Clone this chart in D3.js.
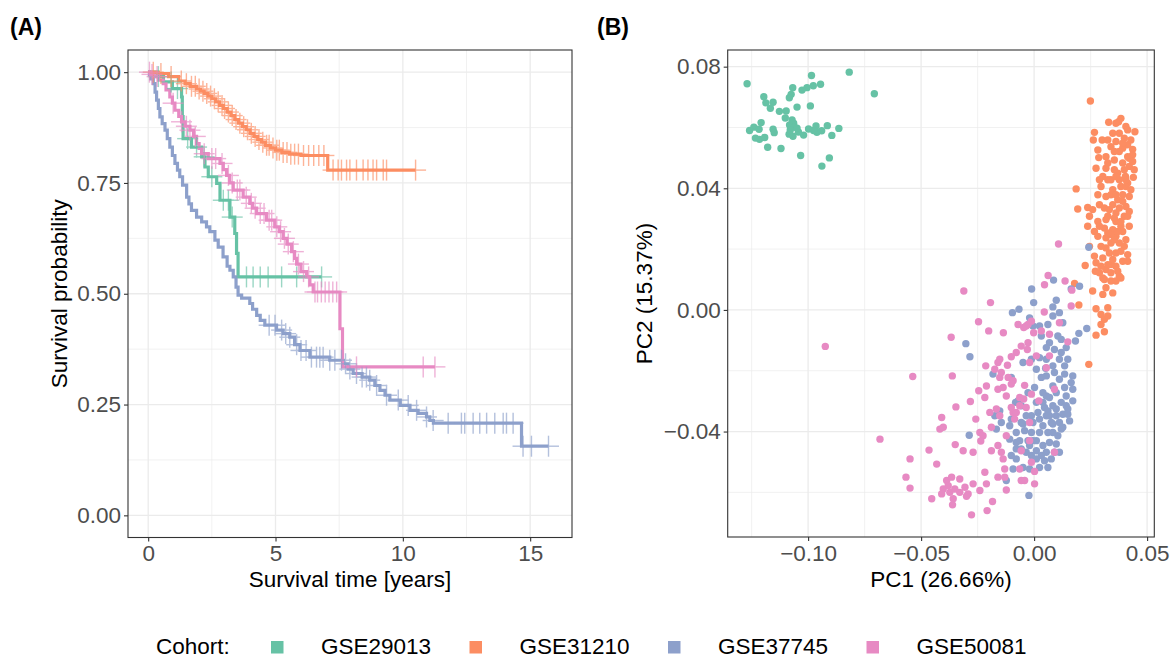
<!DOCTYPE html>
<html>
<head>
<meta charset="utf-8">
<script src="https://cdn.jsdelivr.net/npm/d3@7"></script>
<style>
  body { margin: 0; background: #fff; }
  text { font-family: "Liberation Sans", Arial, Helvetica, sans-serif; }
</style>
</head>
<body>
<svg id="chart" width="1171" height="659"></svg>
<script>
const cohorts = ["GSE29013", "GSE31210", "GSE37745", "GSE50081"];
const colors = ["#66C2A5", "#FC8D62", "#8DA0CB", "#E78AC3"];

// ---- (A) Kaplan-Meier: event times / survival after each step / censor times
const time29013 = [0.35, 0.6, 0.95, 1.31, 1.34, 1.37, 1.7, 2.1, 2.23, 2.36, 2.69, 2.82, 3.21, 3.40, 3.47, 3.53];
const surv29013 = [0.99, 0.978, 0.963, 0.944, 0.9, 0.85, 0.831, 0.809, 0.786, 0.764, 0.749, 0.711, 0.673, 0.636, 0.591, 0.538];
const cens29013 = [0.4, 0.9, 1.15, 1.55, 1.9, 2.2, 2.5, 2.95, 3.15, 3.3, 3.86, 4.12, 4.4, 4.71, 5.24, 5.83, 6.81];

const time31210 = [0.4, 0.8, 1.2, 1.45, 1.65, 1.9, 2.05, 2.2, 2.35, 2.5, 2.65, 2.8, 2.95, 3.1, 3.25, 3.4, 3.55, 3.7, 3.85, 4.0, 4.15, 4.3, 4.45, 4.6, 4.8, 5.0, 5.25, 5.55, 6.0, 7.05];
const surv31210 = [0.997, 0.99, 0.98, 0.974, 0.968, 0.962, 0.957, 0.952, 0.946, 0.94, 0.933, 0.925, 0.918, 0.91, 0.902, 0.893, 0.885, 0.877, 0.87, 0.862, 0.855, 0.848, 0.842, 0.835, 0.829, 0.824, 0.819, 0.815, 0.812, 0.779];
const cens31210 = [0.2, 0.5, 0.9, 1.3, 1.5, 1.7, 1.85, 2.0, 2.15, 2.3, 2.45, 2.6, 2.75, 2.9, 3.0, 3.15, 3.3, 3.45, 3.6, 3.75, 3.9, 4.05, 4.2, 4.35, 4.5, 4.65, 4.75, 4.9, 5.05, 5.15, 5.3, 5.45, 5.6, 5.75, 5.9, 6.1, 6.3, 6.5, 6.7, 6.9, 7.26, 7.46, 7.59, 7.79, 7.92, 8.18, 8.44, 8.63, 8.83, 8.97, 9.23, 9.36, 10.5];

const time37745 = [0.05, 0.1, 0.2, 0.27, 0.33, 0.4, 0.46, 0.55, 0.66, 0.75, 0.85, 0.95, 1.05, 1.15, 1.24, 1.35, 1.51, 1.6, 1.7, 1.9, 2.1, 2.29, 2.42, 2.62, 2.75, 2.94, 3.1, 3.21, 3.34, 3.45, 3.53, 3.67, 3.99, 4.1, 4.26, 4.4, 4.58, 5.04, 5.3, 5.56, 5.75, 5.96, 6.35, 7.13, 7.66, 7.85, 8.05, 8.4, 8.7, 8.9, 9.1, 9.3, 9.49, 9.9, 10.28, 10.6, 10.93, 11.06, 11.2, 14.66];
const surv37745 = [0.995, 0.985, 0.974, 0.955, 0.937, 0.918, 0.899, 0.884, 0.869, 0.85, 0.831, 0.812, 0.794, 0.779, 0.764, 0.745, 0.718, 0.703, 0.688, 0.673, 0.662, 0.651, 0.64, 0.621, 0.605, 0.583, 0.562, 0.553, 0.538, 0.515, 0.497, 0.49, 0.478, 0.465, 0.451, 0.44, 0.429, 0.418, 0.41, 0.402, 0.385, 0.372, 0.357, 0.35, 0.342, 0.33, 0.32, 0.312, 0.305, 0.293, 0.282, 0.271, 0.26, 0.248, 0.237, 0.23, 0.222, 0.214, 0.208, 0.156];
const cens37745 = [4.75, 4.98, 5.24, 5.4, 5.56, 5.83, 6.0, 6.2, 6.41, 6.61, 6.74, 6.87, 7.13, 7.33, 7.59, 7.75, 7.92, 8.18, 8.4, 8.57, 8.7, 8.97, 9.36, 9.82, 10.21, 10.54, 10.93, 11.19, 11.78, 12.3, 12.43, 12.76, 13.02, 13.29, 13.61, 13.94, 14.07, 14.33, 14.72, 15.05, 15.72];

const time50081 = [0.1, 0.2, 0.4, 0.59, 0.7, 0.85, 0.95, 1.05, 1.2, 1.31, 1.45, 1.64, 1.78, 1.9, 2.0, 2.1, 2.36, 2.82, 2.95, 3.08, 3.2, 3.34, 3.73, 3.99, 4.1, 4.26, 4.65, 4.97, 5.15, 5.3, 5.45, 5.63, 5.75, 5.83, 6.0, 6.22, 6.35, 6.48, 7.53, 7.63];
const surv50081 = [0.995, 0.99, 0.982, 0.974, 0.96, 0.944, 0.93, 0.914, 0.9, 0.888, 0.878, 0.869, 0.855, 0.839, 0.828, 0.816, 0.805, 0.794, 0.78, 0.767, 0.75, 0.734, 0.718, 0.704, 0.693, 0.681, 0.666, 0.651, 0.64, 0.625, 0.612, 0.595, 0.58, 0.567, 0.55, 0.538, 0.52, 0.504, 0.421, 0.335];
const cens50081 = [0.05, 0.15, 0.35, 0.98, 1.31, 1.5, 1.64, 1.85, 2.2, 2.5, 2.65, 2.9, 3.15, 3.3, 3.5, 3.6, 3.85, 4.05, 4.2, 4.4, 4.55, 4.75, 4.85, 5.05, 5.2, 5.35, 5.5, 5.7, 5.9, 6.1, 6.3, 6.55, 6.65, 6.8, 6.95, 7.1, 7.25, 7.4, 8.18, 10.8, 11.26];

const kmTimes = [time29013, time31210, time37745, time50081];
const kmSurv = [surv29013, surv31210, surv37745, surv50081];
const kmCens = [cens29013, cens31210, cens37745, cens50081];
const timeLimit = 15.85;
const timeTicks = [0, 5, 10, 15];
const survTicks = [0, 0.25, 0.5, 0.75, 1];

// ---- (B) PCA scores [PC1, PC2]
const pca29013 = [[-0.1270,0.0744],[-0.0818,0.0782],[-0.0707,0.0711],[-0.0985,0.0771],[-0.0945,0.0742],[-0.0977,0.0737],[-0.1005,0.0731],[-0.1027,0.0723],[-0.1068,0.0731],[-0.1075,0.0709],[-0.1083,0.0698],[-0.1196,0.0701],[-0.1187,0.0681],[-0.1155,0.0683],[-0.1167,0.0663],[-0.1127,0.0653],[-0.1097,0.0654],[-0.1049,0.0667],[-0.0990,0.0671],[-0.1071,0.0625],[-0.1064,0.0614],[-0.1082,0.0608],[-0.1060,0.0601],[-0.1208,0.0616],[-0.1240,0.0601],[-0.1259,0.0590],[-0.1217,0.0594],[-0.1155,0.0594],[-0.1150,0.0583],[-0.1233,0.0565],[-0.1215,0.0561],[-0.1192,0.0567],[-0.1084,0.0578],[-0.1067,0.0571],[-0.1043,0.0585],[-0.1020,0.0575],[-0.0998,0.0595],[-0.0965,0.0605],[-0.0961,0.0584],[-0.0940,0.0589],[-0.0915,0.0606],[-0.0864,0.0597],[-0.0895,0.0574],[-0.1179,0.0535],[-0.1120,0.0531],[-0.1033,0.0508],[-0.0906,0.0500],[-0.0939,0.0473],[-0.1049,0.0598],[-0.0976,0.0590],[-0.1079,0.0592],[-0.1101,0.0631]];

const pca31210 = [[0.0249,0.0687],[0.0330,0.0617],[0.0362,0.0614],[0.0384,0.0630],[0.0374,0.0619],[0.0406,0.0603],[0.0446,0.0586],[0.0414,0.0592],[0.0267,0.0584],[0.0262,0.0559],[0.0301,0.0559],[0.0326,0.0559],[0.0377,0.0581],[0.0399,0.0565],[0.0362,0.0554],[0.0414,0.0543],[0.0436,0.0528],[0.0392,0.0532],[0.0340,0.0537],[0.0377,0.0521],[0.0282,0.0526],[0.0318,0.0504],[0.0286,0.0501],[0.0414,0.0504],[0.0355,0.0493],[0.0392,0.0483],[0.0421,0.0472],[0.0439,0.0436],[0.0404,0.0439],[0.0355,0.0461],[0.0318,0.0466],[0.0274,0.0466],[0.0304,0.0439],[0.0340,0.0428],[0.0377,0.0428],[0.0414,0.0417],[0.0421,0.0373],[0.0384,0.0406],[0.0348,0.0395],[0.0296,0.0406],[0.0340,0.0379],[0.0370,0.0362],[0.0406,0.0340],[0.0399,0.0308],[0.0362,0.0319],[0.0333,0.0330],[0.0289,0.0346],[0.0282,0.0379],[0.0186,0.0398],[0.0193,0.0332],[0.0237,0.0337],[0.0245,0.0308],[0.0282,0.0291],[0.0318,0.0297],[0.0362,0.0291],[0.0414,0.0308],[0.0384,0.0275],[0.0348,0.0264],[0.0311,0.0269],[0.0267,0.0258],[0.0237,0.0275],[0.0282,0.0242],[0.0318,0.0237],[0.0362,0.0242],[0.0406,0.0231],[0.0340,0.0220],[0.0377,0.0220],[0.0296,0.0209],[0.0333,0.0187],[0.0362,0.0187],[0.0414,0.0182],[0.0414,0.0160],[0.0362,0.0144],[0.0377,0.0111],[0.0340,0.0095],[0.0311,0.0100],[0.0289,0.0122],[0.0274,0.0155],[0.0226,0.0146],[0.0271,0.0127],[0.0304,0.0105],[0.0348,0.0056],[0.0304,0.0051],[0.0259,0.0062],[0.0384,0.0105],[0.0326,0.0007],[0.0274,0.0004],[0.0296,-0.0015],[0.0311,-0.0031],[0.0326,-0.0020],[0.0296,-0.0048],[0.0311,-0.0072],[0.0274,-0.0083],[0.0245,0.0209],[0.0267,0.0177],[0.0179,0.0087],[0.0198,0.0016],[0.0242,-0.0179],[0.0348,0.0581],[0.0392,0.0548],[0.0428,0.0559],[0.0355,0.0521],[0.0326,0.0483],[0.0370,0.0450],[0.0406,0.0406],[0.0318,0.0373],[0.0392,0.0379],[0.0377,0.0335],[0.0326,0.0308],[0.0392,0.0258],[0.0340,0.0248],[0.0304,0.0171],[0.0340,0.0149],[0.0318,0.0133],[0.0436,0.0510],[0.0443,0.0461],[0.0289,0.0428],[0.0259,0.0330],[0.0421,0.0499],[0.0399,0.0461],[0.0436,0.0488],[0.0362,0.0439],[0.0326,0.0428],[0.0406,0.0428],[0.0428,0.0395],[0.0362,0.0379],[0.0392,0.0357],[0.0421,0.0324],[0.0348,0.0346],[0.0311,0.0335],[0.0355,0.0302],[0.0384,0.0291],[0.0421,0.0275],[0.0370,0.0258],[0.0326,0.0253],[0.0289,0.0275],[0.0355,0.0231],[0.0399,0.0209],[0.0318,0.0204],[0.0384,0.0193],[0.0348,0.0166],[0.0392,0.0160],[0.0326,0.0149],[0.0370,0.0127],[0.0296,0.0144],[0.0340,0.0122],[0.0362,0.0095],[0.0318,0.0073]];

const pca37745 = [[0.0086,0.0098],[-0.0011,0.0069],[-0.0002,0.0024],[0.0098,0.0032],[0.0083,0.0010],[0.0201,0.0078],[0.0164,0.0069],[-0.0096,-0.0009],[-0.0067,0.0002],[-0.0020,-0.0026],[0.0024,-0.0053],[0.0061,-0.0048],[0.0083,-0.0020],[0.0112,-0.0009],[0.0127,-0.0042],[0.0105,-0.0086],[0.0032,-0.0086],[-0.0005,-0.0053],[0.0198,-0.0077],[0.0233,-0.0061],[0.0183,-0.0102],[0.0142,-0.0124],[0.0120,-0.0140],[0.0112,-0.0162],[0.0083,-0.0184],[0.0051,-0.0192],[0.0024,-0.0157],[0.0010,-0.0195],[-0.0049,-0.0173],[-0.0012,-0.0162],[0.0054,-0.0217],[0.0135,-0.0211],[0.0112,-0.0228],[0.0083,-0.0250],[0.0135,-0.0255],[0.0164,-0.0239],[0.0142,-0.0283],[0.0120,-0.0304],[0.0171,-0.0299],[0.0068,-0.0288],[0.0039,-0.0272],[0.0002,-0.0255],[-0.0027,-0.0272],[-0.0082,-0.0304],[-0.0057,-0.0315],[0.0010,-0.0304],[0.0046,-0.0321],[0.0098,-0.0326],[0.0127,-0.0343],[0.0149,-0.0343],[0.0157,-0.0365],[0.0112,-0.0370],[0.0076,-0.0370],[0.0054,-0.0348],[0.0017,-0.0337],[-0.0012,-0.0348],[-0.0005,-0.0370],[0.0039,-0.0381],[0.0083,-0.0403],[0.0105,-0.0414],[0.0068,-0.0436],[0.0039,-0.0446],[0.0010,-0.0430],[-0.0012,-0.0403],[-0.0042,-0.0397],[-0.0079,-0.0403],[-0.0108,-0.0381],[-0.0145,-0.0370],[-0.0174,-0.0348],[-0.0167,-0.0392],[-0.0108,-0.0425],[-0.0079,-0.0436],[-0.0057,-0.0457],[-0.0020,-0.0446],[0.0010,-0.0463],[0.0054,-0.0468],[0.0090,-0.0468],[0.0112,-0.0468],[0.0046,-0.0496],[0.0024,-0.0518],[0.0061,-0.0518],[-0.0020,-0.0523],[-0.0049,-0.0518],[-0.0079,-0.0490],[-0.0101,-0.0479],[-0.0093,-0.0523],[-0.0123,-0.0561],[-0.0023,-0.0610],[-0.0284,-0.0154],[-0.0302,-0.0111],[-0.0287,-0.0412],[-0.0182,-0.0211],[-0.0101,-0.0222],[-0.0071,-0.0299],[0.0068,-0.0348],[0.0024,-0.0403],[-0.0027,-0.0430],[-0.0049,-0.0375],[-0.0012,-0.0479],[0.0076,-0.0490],[0.0083,-0.0315],[0.0142,-0.0315],[0.0054,-0.0283],[0.0098,-0.0272],[0.0024,-0.0359],[0.0127,-0.0386],[0.0061,-0.0403],[0.0098,-0.0441],[0.0010,-0.0490],[-0.0035,-0.0468],[-0.0064,-0.0430],[0.0054,-0.0162],[0.0090,-0.0130],[0.0068,-0.0108],[0.0135,-0.0184],[0.0171,-0.0261],[0.0149,-0.0326],[0.0032,-0.0222],[-0.0101,-0.0359],[-0.0152,-0.0332],[0.0242,0.0206],[0.0098,-0.0348],[0.0120,-0.0392],[0.0083,-0.0375],[0.0061,-0.0332],[0.0039,-0.0304],[-0.0035,-0.0348],[-0.0057,-0.0370],[-0.0079,-0.0457],[0.0032,-0.0479],[0.0090,-0.0206],[0.0120,-0.0097],[0.0054,-0.0124],[0.0149,-0.0162],[0.0171,-0.0217],[-0.0005,-0.0430]];

const pca50081 = [[0.0062,0.0113],[0.0046,0.0083],[0.0137,0.0095],[0.0167,0.0065],[0.0164,0.0013],[-0.0311,0.0062],[-0.0193,0.0024],[-0.0246,-0.0039],[-0.0201,-0.0069],[-0.0136,-0.0075],[-0.0367,-0.0090],[-0.0071,-0.0048],[-0.0046,-0.0058],[-0.0012,-0.0037],[-0.0027,-0.0048],[-0.0002,-0.0075],[0.0032,-0.0069],[0.0068,-0.0080],[0.0112,-0.0042],[0.0149,-0.0105],[0.0045,-0.0007],[-0.0027,-0.0108],[-0.0030,-0.0130],[-0.0020,-0.0173],[-0.0079,-0.0140],[-0.0101,-0.0154],[-0.0152,-0.0162],[-0.0160,-0.0173],[-0.0214,-0.0184],[-0.0118,-0.0182],[0.0010,-0.0151],[0.0068,-0.0151],[0.0054,-0.0190],[-0.0362,-0.0217],[-0.0537,-0.0219],[-0.0152,-0.0222],[-0.0115,-0.0222],[-0.0093,-0.0233],[-0.0137,-0.0255],[-0.0101,-0.0244],[-0.0160,-0.0261],[-0.0123,-0.0283],[-0.0211,-0.0250],[-0.0245,-0.0266],[-0.0218,-0.0288],[-0.0282,-0.0301],[-0.0346,-0.0319],[-0.0042,-0.0248],[-0.0012,-0.0277],[-0.0046,-0.0293],[-0.0064,-0.0315],[-0.0035,-0.0321],[0.0021,-0.0299],[0.0090,-0.0261],[-0.0093,-0.0337],[-0.0086,-0.0359],[-0.0079,-0.0337],[-0.0020,-0.0370],[-0.0167,-0.0326],[-0.0152,-0.0348],[-0.0196,-0.0337],[-0.0258,-0.0359],[-0.0409,-0.0354],[-0.0417,-0.0392],[-0.0402,-0.0386],[-0.0240,-0.0403],[-0.0226,-0.0414],[-0.0236,-0.0431],[-0.0189,-0.0386],[-0.0123,-0.0414],[-0.0349,-0.0443],[-0.0314,-0.0463],[-0.0270,-0.0468],[-0.0465,-0.0461],[-0.0549,-0.0490],[-0.0431,-0.0507],[-0.0189,-0.0463],[-0.0160,-0.0446],[-0.0145,-0.0468],[-0.0137,-0.0490],[-0.0057,-0.0463],[-0.0020,-0.0430],[0.0090,-0.0468],[-0.0012,-0.0501],[0.0002,-0.0531],[-0.0064,-0.0523],[-0.0130,-0.0523],[-0.0130,-0.0550],[-0.0160,-0.0550],[-0.0218,-0.0534],[-0.0567,-0.0550],[-0.0549,-0.0586],[-0.0387,-0.0561],[-0.0365,-0.0550],[-0.0329,-0.0556],[-0.0402,-0.0589],[-0.0373,-0.0600],[-0.0351,-0.0589],[-0.0306,-0.0583],[-0.0270,-0.0572],[-0.0292,-0.0605],[-0.0299,-0.0613],[-0.0358,-0.0621],[-0.0361,-0.0641],[-0.0453,-0.0621],[-0.0409,-0.0605],[-0.0240,-0.0594],[-0.0211,-0.0572],[-0.0123,-0.0592],[-0.0057,-0.0561],[-0.0042,-0.0561],[0.0002,-0.0572],[-0.0184,-0.0630],[-0.0208,-0.0660],[-0.0277,-0.0674],[-0.0682,-0.0425],[-0.0924,-0.0120],[0.0108,0.0217],[-0.0145,-0.0206],[-0.0174,-0.0195],[-0.0064,-0.0288],[-0.0101,-0.0321],[-0.0035,-0.0053],[-0.0057,-0.0119],[-0.0380,-0.0578],[-0.0329,-0.0600]];

const pcaSets = [pca29013, pca31210, pca37745, pca50081];
const pc1Ticks = [-0.10, -0.05, 0.00, 0.05];
const pc2Ticks = [-0.04, 0.00, 0.04, 0.08];

// ---- layout
const svg = d3.select("#chart");
svg.append("rect").attr("width", 1171).attr("height", 659).attr("fill", "#fff");

const panelA = { left: 128, right: 572, top: 50, bottom: 537.5 };
const panelB = { left: 727.7, right: 1154.3, top: 50, bottom: 537 };
const fontSize = "22.5px";
const tickColor = "#4D4D4D";
const gridColor = "#EBEBEB";

function expand(lo, hi) {
  const pad = (hi - lo) * 0.05;
  return [lo - pad, hi + pad];
}

function drawGrid(g, x, y, xMajor, yMajor, xMinor, yMinor, p) {
  g.selectAll(null).data(xMinor).join("line")
    .attr("x1", d => x(d)).attr("x2", d => x(d))
    .attr("y1", p.top).attr("y2", p.bottom)
    .attr("stroke", gridColor).attr("stroke-width", 0.7);
  g.selectAll(null).data(yMinor).join("line")
    .attr("x1", p.left).attr("x2", p.right)
    .attr("y1", d => y(d)).attr("y2", d => y(d))
    .attr("stroke", gridColor).attr("stroke-width", 0.7);
  g.selectAll(null).data(xMajor).join("line")
    .attr("x1", d => x(d)).attr("x2", d => x(d))
    .attr("y1", p.top).attr("y2", p.bottom)
    .attr("stroke", gridColor).attr("stroke-width", 1.3);
  g.selectAll(null).data(yMajor).join("line")
    .attr("x1", p.left).attr("x2", p.right)
    .attr("y1", d => y(d)).attr("y2", d => y(d))
    .attr("stroke", gridColor).attr("stroke-width", 1.3);
}

function drawAxes(x, y, xTicks, yTicks, p, fmtX, fmtY) {
  const ax = svg.append("g")
    .attr("transform", `translate(0,${p.bottom})`)
    .call(d3.axisBottom(x).tickValues(xTicks).tickFormat(fmtX).tickSize(4).tickPadding(4));
  const ay = svg.append("g")
    .attr("transform", `translate(${p.left},0)`)
    .call(d3.axisLeft(y).tickValues(yTicks).tickFormat(fmtY).tickSize(4).tickPadding(3));
  [ax, ay].forEach(a => {
    a.select(".domain").remove();
    a.selectAll(".tick line").attr("stroke", "#333333").attr("stroke-width", 1.1);
    a.selectAll(".tick text")
      .attr("fill", tickColor)
      .style("font-size", fontSize)
      .style("font-family", '"Liberation Sans", Arial, sans-serif');
  });
  svg.append("rect")
    .attr("x", p.left).attr("y", p.top)
    .attr("width", p.right - p.left).attr("height", p.bottom - p.top)
    .attr("fill", "none").attr("stroke", "#333333").attr("stroke-width", 1.1);
}

function label(txt, x, y, opts) {
  const t = svg.append("text")
    .attr("x", x).attr("y", y)
    .attr("fill", opts.fill || "#000")
    .style("font-size", opts.size || fontSize)
    .style("font-weight", opts.weight || "normal")
    .attr("text-anchor", opts.anchor || "middle")
    .text(txt);
  if (opts.rotate) t.attr("transform", `rotate(-90,${x},${y})`);
  return t;
}

// ================= (A) survival curves =================
const xA = d3.scaleLinear().domain(expand(0, timeLimit)).range([panelA.left, panelA.right]);
const yA = d3.scaleLinear().domain(expand(0, 1)).range([panelA.bottom, panelA.top]);

const gA = svg.append("g");
drawGrid(gA, xA, yA, timeTicks, survTicks, [2.5, 7.5, 12.5], [0.125, 0.375, 0.625, 0.875], panelA);

function survAt(times, surv, t) {
  let s = 1;
  times.forEach((tt, i) => { if (tt <= t) s = surv[i]; });
  return s;
}

const stepLine = d3.line()
  .x(d => xA(d[0]))
  .y(d => yA(d[1]))
  .curve(d3.curveStepAfter);

cohorts.forEach((c, k) => {
  const times = kmTimes[k], surv = kmSurv[k];
  const end = d3.max(kmCens[k]);
  const pts = [[0, 1]].concat(times.map((t, i) => [t, surv[i]]));
  pts.push([end, surv[surv.length - 1]]);
  gA.append("path")
    .datum(pts)
    .attr("fill", "none")
    .attr("stroke", colors[k])
    .attr("stroke-width", 3.2)
    .attr("d", stepLine);
});

// censor marks (+)
cohorts.forEach((c, k) => {
  const marks = gA.append("g")
    .attr("stroke", colors[k])
    .attr("stroke-width", 1.4)
    .attr("opacity", 0.65);
  kmCens[k].forEach(t => {
    const cx = xA(t), cy = yA(survAt(kmTimes[k], kmSurv[k], t));
    marks.append("line").attr("x1", cx - 10.5).attr("x2", cx + 10.5).attr("y1", cy).attr("y2", cy);
    marks.append("line").attr("x1", cx).attr("x2", cx).attr("y1", cy - 10.5).attr("y2", cy + 10.5);
  });
});

drawAxes(xA, yA, timeTicks, survTicks, panelA, d3.format("d"), d3.format(".2f"));
label("Survival time [years]", (panelA.left + panelA.right) / 2, 587, {});
label("Survival probability", 67, (panelA.top + panelA.bottom) / 2, { rotate: true });
label("(A)", 10, 35, { anchor: "start", weight: "bold", size: "23px" });

// ================= (B) PCA =================
const allPts = pcaSets.flat();
const xB = d3.scaleLinear().domain(expand(d3.min(allPts, d => d[0]), d3.max(allPts, d => d[0]))).range([panelB.left, panelB.right]);
const yB = d3.scaleLinear().domain(expand(d3.min(allPts, d => d[1]), d3.max(allPts, d => d[1]))).range([panelB.bottom, panelB.top]);

const gB = svg.append("g");
drawGrid(gB, xB, yB, pc1Ticks, pc2Ticks, [-0.125, -0.075, -0.025, 0.025], [-0.06, -0.02, 0.02, 0.06], panelB);

pcaSets.forEach((set, k) => {
  gB.append("g").selectAll("circle")
    .data(set)
    .join("circle")
    .attr("cx", d => xB(d[0]))
    .attr("cy", d => yB(d[1]))
    .attr("r", 3.7)
    .attr("fill", colors[k]);
});

drawAxes(xB, yB, pc1Ticks, pc2Ticks, panelB, d3.format(".2f"), d3.format(".2f"));
label("PC1 (26.66%)", (panelB.left + panelB.right) / 2, 587, {});
label("PC2 (15.37%)", 652, (panelB.top + panelB.bottom) / 2, { rotate: true });
label("(B)", 597, 35, { anchor: "start", weight: "bold", size: "23px" });

// ================= legend =================
label("Cohort:", 156, 654, { anchor: "start" });
cohorts.forEach((c, k) => {
  const lx = 271 + k * 198.5;
  svg.append("rect")
    .attr("x", lx).attr("y", 641)
    .attr("width", 12.5).attr("height", 12.5)
    .attr("fill", colors[k]);
  label(c, lx + 50, 654, { anchor: "start" });
});
</script>
</body>
</html>
